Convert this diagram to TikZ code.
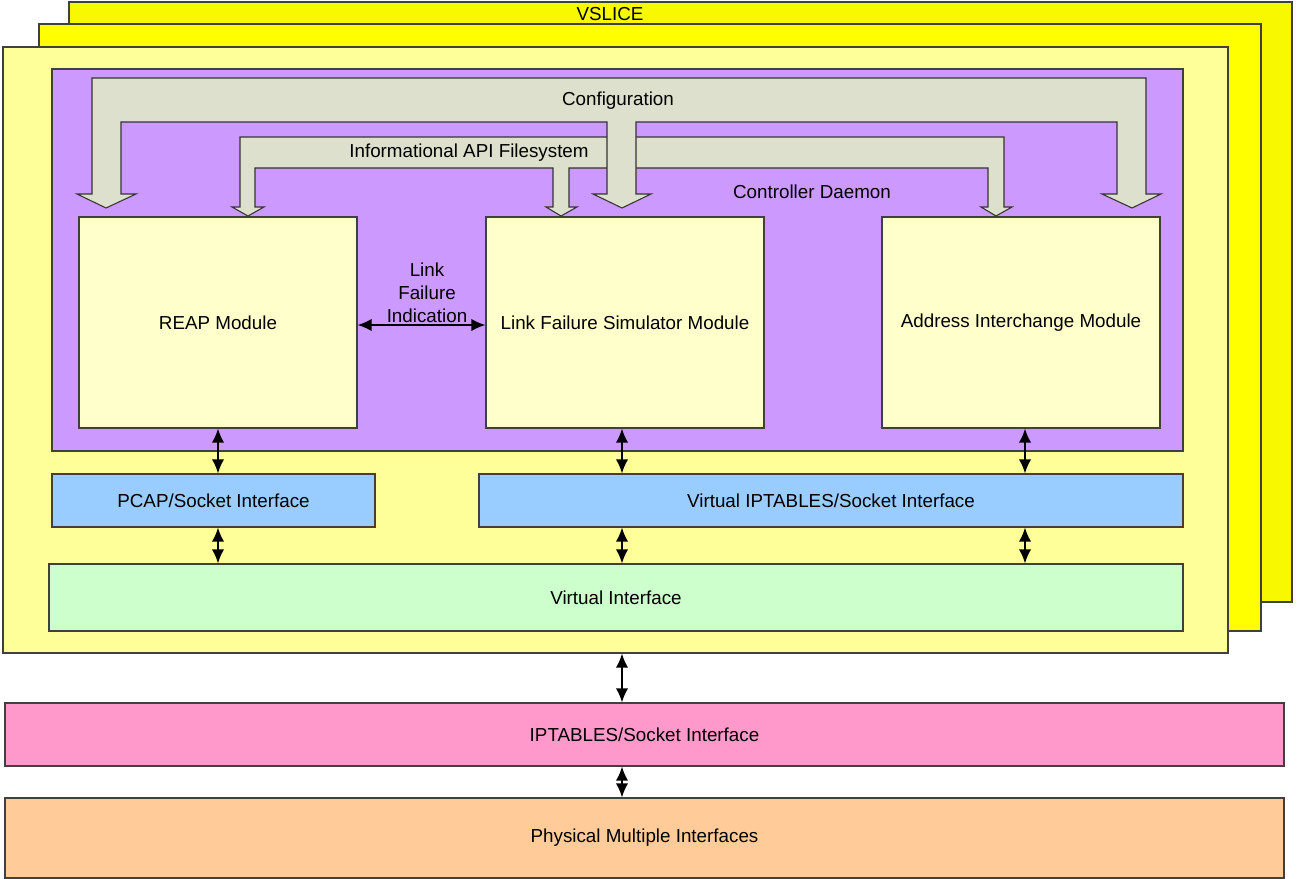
\documentclass[tikz,border=0pt]{standalone}
\usepackage{fontspec}
\setmainfont{Liberation Sans}
\usetikzlibrary{arrows.meta,fit}

\definecolor{sliceback}{RGB}{248,248,0}
\definecolor{slicemid}{RGB}{255,255,0}
\definecolor{slicefront}{RGB}{255,255,153}
\definecolor{daemon}{RGB}{204,153,255}
\definecolor{band}{RGB}{221,224,204}
\definecolor{module}{RGB}{255,255,204}
\definecolor{sockblue}{RGB}{153,204,255}
\definecolor{virtgreen}{RGB}{204,255,204}
\definecolor{iptpink}{RGB}{255,153,204}
\definecolor{physorange}{RGB}{255,204,153}

\tikzset{
  lbl/.style={font=\fontsize{10.7}{13}\selectfont},
  blk/.style={draw=black!75, line width=0.6pt, inner sep=0pt},
  txt/.style={label={[lbl]center:#1}},
  bandarrow/.style={draw=black!80, fill=band, line width=0.6pt, line join=miter},
  link/.style={<->, line width=1pt, >={Latex[length=8pt,width=7pt]}},
}

\begin{document}
\begin{tikzpicture}[x=0.02cm, y=-0.02cm]
    \useasboundingbox (0,0) rectangle (1300,878);

    % configuration band
    \def\Ca{78};
    \def\Cb{122};
    \def\Cc{194};
    \def\Cd{208};
    % informational band
    \def\Ia{137};
    \def\Ib{168};
    \def\Ic{207};
    \def\Id{216};

    % slices
    \node[blk, fill=sliceback, fit={(69,2) (1292,602)}] (sliceb) {};
    \node[blk, fill=slicemid, fit={(39,24) (1261,631)}] (slicem) {};
    \node[blk, fill=slicefront, fit={(3,47) (1228,653)}] (slice) {};
    \node[lbl] (vslice) at (610,14) {VSLICE};

    % daemon
    \node[blk, fill=daemon, fit={(52,69) (1183,451)}] (ctrl) {};
    \node[lbl] (ctrllbl) at (812,192) {Controller Daemon};

    % bands
    \draw[bandarrow] (248,\Id) -- (232,\Ic) -- (240,\Ic) -- (240,\Ia) -- (1004,\Ia)
        -- (1004,\Ic) -- (1012,\Ic) -- (996,\Id) -- (981,\Ic) -- (988,\Ic) -- (988,\Ib)
        -- (569,\Ib) -- (569,\Ic) -- (577,\Ic) -- (561,\Id) -- (546,\Ic) -- (553,\Ic)
        -- (553,\Ib) -- (255,\Ib) -- (255,\Ic) -- (264,\Ic) -- cycle;
    \draw[bandarrow] (106,\Cd) -- (77,\Cc) -- (92,\Cc) -- (92,\Ca) -- (1146,\Ca)
        -- (1146,\Cc) -- (1161,\Cc) -- (1132,\Cd) -- (1102,\Cc) -- (1117,\Cc) -- (1117,\Cb)
        -- (636,\Cb) -- (636,\Cc) -- (651,\Cc) -- (622,\Cd) -- (593,\Cc) -- (607,\Cc)
        -- (607,\Cb) -- (121,\Cb) -- (121,\Cc) -- (136,\Cc) -- cycle;
    \node[lbl] (config) at (618,101) {Configuration};
    \node[lbl] (infoapi) at (469,153) {Informational API Filesystem};

    % modules
    \node[blk, fill=module, fit={(79,217) (357,428)}, txt=REAP Module] (reap) {};
    \node[blk, fill=module, fit={(486,217) (764,428)}, txt=Link Failure Simulator Module] (lfs) {};
    \node[blk, fill=module, fit={(882,217) (1160,428)}, txt=Address Interchange Module] (addr) {};
    \node[lbl, align=center] (lfi) at (427,293) {Link\\Failure\\Indication};

    % interfaces
    \node[blk, fill=sockblue, fit={(52,474) (375,527)}, txt=PCAP/Socket Interface] (pcap) {};
    \node[blk, fill=sockblue, fit={(479,474) (1183,527)}, txt=Virtual IPTABLES/Socket Interface] (vipt) {};
    \node[blk, fill=virtgreen, fit={(49,564) (1183,631)}, txt=Virtual Interface] (vif) {};
    \node[blk, fill=iptpink, fit={(5,703) (1284,766)}, txt=IPTABLES/Socket Interface] (ipt) {};
    \node[blk, fill=physorange, fit={(5,798) (1284,878)}, txt=Physical Multiple Interfaces] (phys) {};

    % arrows
    \coordinate (xl) at (218,0);
    \coordinate (xm) at (622,0);
    \coordinate (xr) at (1025,0);
    \coordinate (yl) at (0,325);
    \draw[link] (reap.east |- yl) -- (lfs.west |- yl);
    \draw[link] (xl |- reap.south) -- (xl |- pcap.north);
    \draw[link] (xm |- lfs.south) -- (xm |- vipt.north);
    \draw[link] (xr |- addr.south) -- (xr |- vipt.north);
    \draw[link] (xl |- pcap.south) -- (xl |- vif.north);
    \draw[link] (xm |- vipt.south) -- (xm |- vif.north);
    \draw[link] (xr |- vipt.south) -- (xr |- vif.north);
    \draw[link] (xm |- slice.south) -- (xm |- ipt.north);
    \draw[link] (xm |- ipt.south) -- (xm |- phys.north);
\end{tikzpicture}
\end{document}
